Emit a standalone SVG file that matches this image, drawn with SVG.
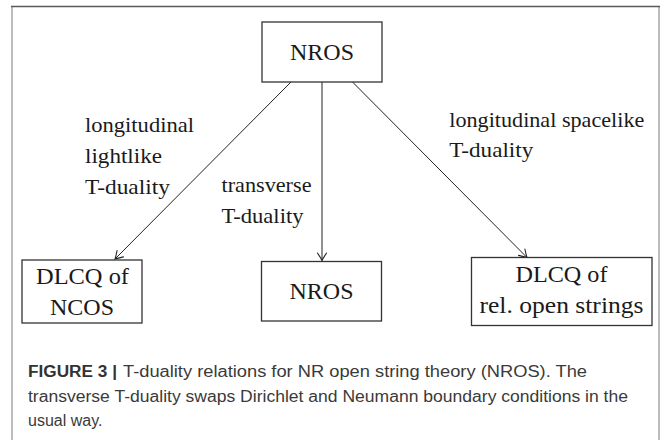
<svg xmlns="http://www.w3.org/2000/svg" width="664" height="440" viewBox="0 0 664 440">
  <style>
    .box { fill: #ffffff; stroke: #333333; stroke-width: 1.3; }
    .conn { stroke: #222222; stroke-width: 1; fill: none; }
    .t { font-family: "Liberation Serif", "Times New Roman", serif; fill: #1a1a1a; }
    .bt { font-size: 23px; text-anchor: middle; }
    .lt { font-size: 21px; }
    .cap { font-family: "Liberation Sans", Arial, sans-serif; font-size: 16px; fill: #3a3a3a; }
    .capb { font-weight: bold; fill: #333333; }
  </style>
  <defs>
    <marker id="tip" markerUnits="userSpaceOnUse" markerWidth="14" markerHeight="14" viewBox="-10 -7 12 14" refX="0" refY="0" orient="auto">
      <path d="M -7.5,-4.5 Q -2.5,-1.2 0,0 Q -2.5,1.2 -7.5,4.5" fill="none" stroke="#222222" stroke-width="1.1" stroke-linecap="round"/>
    </marker>
  </defs>
  <rect x="0" y="0" width="664" height="440" fill="#ffffff"/>
  <!-- frame -->
  <g id="frame">
    <line x1="12" y1="7" x2="12" y2="440" stroke="#bdbdbd" stroke-width="2"/>
    <line x1="659" y1="7" x2="659" y2="440" stroke="#bdbdbd" stroke-width="2"/>
    <line x1="11" y1="6.5" x2="660" y2="6.5" stroke="#5a5a5a" stroke-width="1.6"/>
  </g>

  <g id="connectors">
    <line class="conn" x1="291" y1="82" x2="115" y2="259" marker-end="url(#tip)"/>
    <line class="conn" x1="322" y1="82" x2="322" y2="260.5" marker-end="url(#tip)"/>
    <line class="conn" x1="352.5" y1="82" x2="527" y2="257.5" marker-end="url(#tip)"/>
  </g>

  <g id="node-top">
    <rect class="box" x="262" y="22" width="120" height="60"/>
    <text class="t bt" x="322" y="60" textLength="64" lengthAdjust="spacingAndGlyphs">NROS</text>
  </g>
  <g id="node-left">
    <rect class="box" x="22" y="260" width="120" height="63"/>
    <text class="t bt" x="82.5" y="283.5" textLength="93" lengthAdjust="spacingAndGlyphs">DLCQ of</text>
    <text class="t bt" x="82" y="315" textLength="64" lengthAdjust="spacingAndGlyphs">NCOS</text>
  </g>
  <g id="node-mid">
    <rect class="box" x="261.5" y="261.5" width="120" height="59.5"/>
    <text class="t bt" x="321.5" y="298.5" textLength="64" lengthAdjust="spacingAndGlyphs">NROS</text>
  </g>
  <g id="node-right">
    <rect class="box" x="471.5" y="257.5" width="180.5" height="68"/>
    <text class="t bt" x="561.5" y="282" textLength="92" lengthAdjust="spacingAndGlyphs">DLCQ of</text>
    <text class="t bt" x="561.5" y="312.5" textLength="164" lengthAdjust="spacingAndGlyphs">rel. open strings</text>
  </g>

  <g id="labels">
    <text class="t lt" x="85" y="131.5" textLength="109" lengthAdjust="spacingAndGlyphs">longitudinal</text>
    <text class="t lt" x="85" y="162.5" textLength="77" lengthAdjust="spacingAndGlyphs">lightlike</text>
    <text class="t lt" x="85" y="193.5" textLength="85" lengthAdjust="spacingAndGlyphs">T-duality</text>
    <text class="t lt" x="221.5" y="191.7" textLength="90" lengthAdjust="spacingAndGlyphs">transverse</text>
    <text class="t lt" x="221.5" y="223.3" textLength="82" lengthAdjust="spacingAndGlyphs">T-duality</text>
    <text class="t lt" x="449.3" y="126.7" textLength="195" lengthAdjust="spacingAndGlyphs">longitudinal spacelike</text>
    <text class="t lt" x="449.3" y="156.7" textLength="84" lengthAdjust="spacingAndGlyphs">T-duality</text>
  </g>

  <g id="caption">
    <text class="cap capb" x="28" y="376.5" textLength="89" lengthAdjust="spacingAndGlyphs">FIGURE 3 |</text>
    <text class="cap" x="123" y="376.5" textLength="464" lengthAdjust="spacingAndGlyphs">T-duality relations for NR open string theory (NROS). The</text>
    <text class="cap" x="28" y="401.5" textLength="600" lengthAdjust="spacingAndGlyphs">transverse T-duality swaps Dirichlet and Neumann boundary conditions in the</text>
    <text class="cap" x="28" y="426">usual way.</text>
  </g>
</svg>
